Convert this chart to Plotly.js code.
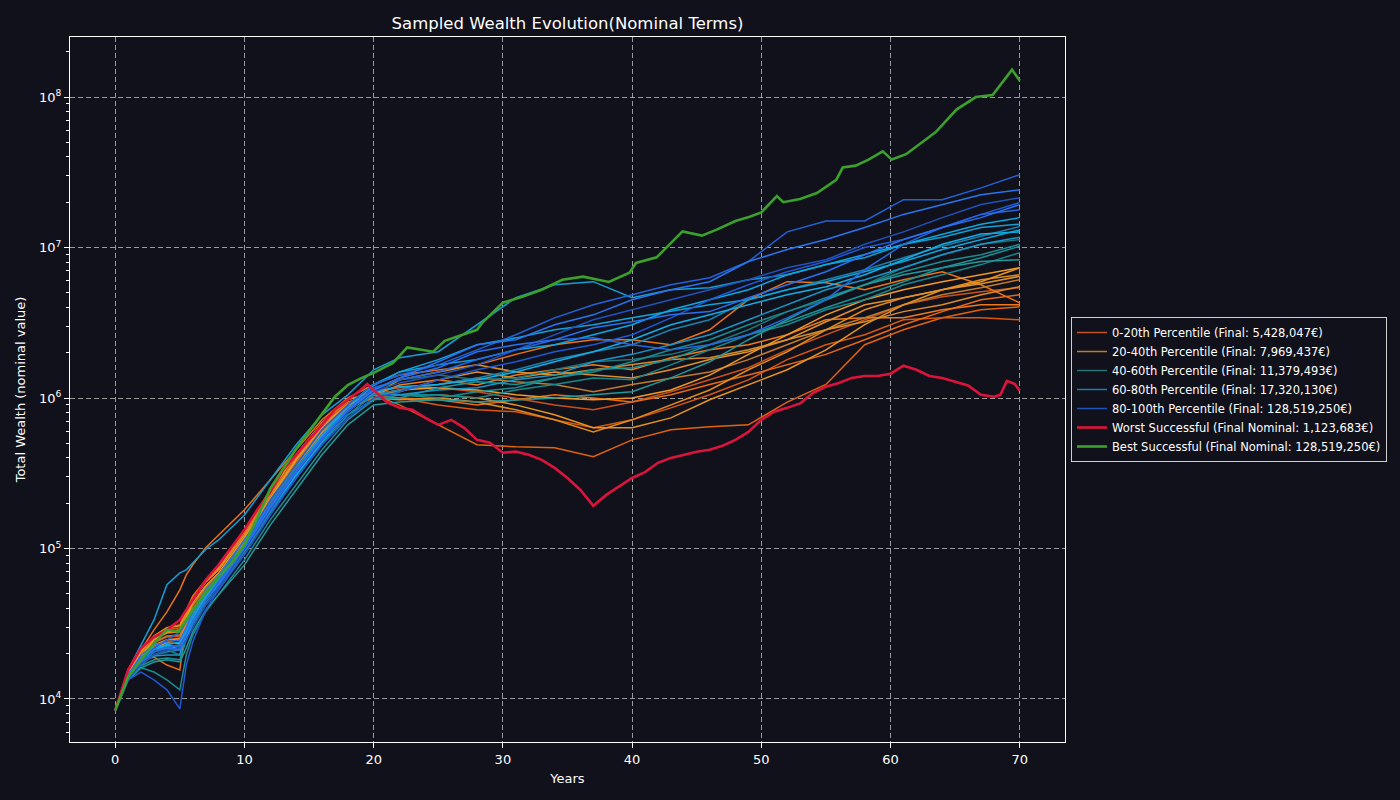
<!DOCTYPE html>
<html><head><meta charset="utf-8">
<script src="https://cdn.plot.ly/plotly-3.0.1.min.js"></script>
<style>html,body{margin:0;padding:0;background:#11111b;}#chart{width:1400px;height:800px;}</style>
</head><body><div id="chart"></div>
<script>
// Common year grid for the sampled percentile paths
const years = [0,1,2,3,4,5,5.5,6,7,8,10,12,14,16,18,20,22,25,28,31,34,37,40,43,46,49,52,55,58,61,64,67,70];

// 0-20th percentile paths
const p0_20_a = [8.4e3,1.42e4,1.90e4,2.36e4,2.58e4,2.62e4,3.25e4,4.15e4,5.31e4,6.57e4,1.14e5,2.10e5,3.59e5,6.15e5,8.9e5,1.10e6,1.17e6,1.17e6,1.10e6,1.00e6,9.0e5,8.35e5,9.4e5,1.10e6,1.32e6,1.59e6,2.09e6,2.63e6,3.31e6,4.16e6,4.71e6,5.08e6,5.41e6];
const p0_20_b = [8.4e3,1.47e4,2.05e4,2.62e4,2.97e4,3.11e4,3.91e4,4.84e4,6.18e4,7.66e4,1.33e5,2.45e5,4.20e5,6.84e5,9.4e5,1.05e6,9.0e5,6.63e5,4.89e5,4.74e5,4.67e5,4.07e5,5.27e5,6.15e5,6.43e5,6.63e5,9.4e5,1.23e6,2.26e6,2.84e6,3.41e6,3.86e6,4.04e6];
const p0_20_c = [8.4e3,1.44e4,1.99e4,2.54e4,2.88e4,2.97e4,3.74e4,4.69e4,6.0e4,7.21e4,1.23e5,2.27e5,4.00e5,6.53e5,9.2e5,1.05e6,1.00e6,9.0e5,8.35e5,8.1e5,7.16e5,6.34e5,7.16e5,8.6e5,1.05e6,1.32e6,1.80e6,2.26e6,2.63e6,3.31e6,3.41e6,3.41e6,3.31e6];
const p0_20_d = [8.4e3,1.49e4,2.12e4,2.88e4,3.79e4,5.31e4,6.67e4,7.78e4,1.01e5,1.23e5,1.81e5,2.86e5,4.53e5,7.16e5,1.00e6,1.23e6,1.42e6,1.54e6,1.66e6,1.95e6,2.26e6,2.44e6,2.44e6,2.26e6,2.84e6,4.50e6,5.93e6,5.84e6,5.24e6,6.11e6,6.91e6,5.66e6,4.29e6];
const p0_20_e = [8.4e3,1.51e4,1.82e4,1.90e4,1.68e4,1.56e4,3.25e4,4.55e4,6.0e4,7.21e4,1.23e5,2.27e5,4.00e5,6.63e5,9.1e5,1.00e6,1.00e6,9.73e5,9.0e5,9.73e5,1.05e6,1.00e6,9.4e5,1.05e6,1.23e6,1.42e6,1.66e6,1.95e6,2.44e6,3.07e6,3.75e6,4.50e6,4.86e6];
const p0_20_f = [8.4e3,1.40e4,1.85e4,2.25e4,2.47e4,2.54e4,3.15e4,3.96e4,5.15e4,6.28e4,1.09e5,2.01e5,3.49e5,5.87e5,8.6e5,1.04e6,1.22e6,1.32e6,1.22e6,1.42e6,1.54e6,1.66e6,1.54e6,1.85e6,2.09e6,2.26e6,2.63e6,3.31e6,3.41e6,3.41e6,3.86e6,4.16e6,4.16e6];

// 20-40th percentile paths
const p20_40_a = [8.4e3,1.44e4,1.93e4,2.39e4,2.62e4,2.66e4,3.35e4,4.21e4,5.48e4,6.67e4,1.14e5,2.10e5,3.76e5,6.15e5,8.6e5,1.00e6,1.13e6,1.23e6,1.36e6,1.28e6,1.23e6,1.10e6,1.23e6,1.36e6,1.49e6,1.80e6,2.26e6,2.84e6,3.41e6,4.16e6,4.86e6,5.41e6,6.11e6];
const p20_40_b = [8.4e3,1.42e4,1.96e4,2.47e4,2.74e4,2.79e4,3.62e4,4.55e4,6.0e4,7.21e4,1.23e5,2.27e5,3.88e5,6.63e5,9.0e5,1.00e6,9.73e5,1.00e6,9.4e5,8.35e5,7.16e5,5.95e5,7.16e5,9.0e5,1.13e6,1.54e6,2.03e6,2.84e6,3.86e6,4.64e6,5.24e6,6.11e6,6.60e6];
const p20_40_c = [8.4e3,1.47e4,2.05e4,2.62e4,2.97e4,3.06e4,3.79e4,4.69e4,6.18e4,7.43e4,1.29e5,2.37e5,4.20e5,6.84e5,9.73e5,1.10e6,1.05e6,1.05e6,1.00e6,9.0e5,7.73e5,6.34e5,6.34e5,7.38e5,9.73e5,1.23e6,1.54e6,2.09e6,3.07e6,4.16e6,5.24e6,5.93e6,7.34e6];
const p20_40_d = [8.4e3,1.40e4,1.87e4,2.29e4,2.47e4,2.47e4,3.11e4,3.91e4,5.15e4,6.37e4,1.11e5,2.04e5,3.59e5,5.95e5,8.35e5,1.05e6,1.32e6,1.49e6,1.66e6,1.49e6,1.42e6,1.54e6,1.66e6,1.80e6,1.85e6,2.09e6,2.44e6,2.84e6,3.21e6,3.75e6,4.16e6,4.86e6,5.49e6];
const p20_40_e = [8.4e3,1.42e4,1.93e4,2.47e4,2.79e4,2.88e4,3.46e4,4.35e4,5.65e4,6.88e4,1.18e5,2.17e5,3.88e5,6.34e5,9.1e5,1.05e6,1.13e6,1.17e6,1.13e6,1.05e6,1.00e6,9.73e5,1.00e6,1.13e6,1.42e6,1.95e6,2.63e6,3.57e6,4.50e6,5.24e6,5.93e6,6.60e6,7.34e6];
const p20_40_f = [8.4e3,1.38e4,1.82e4,2.18e4,2.36e4,2.33e4,2.97e4,3.67e4,4.84e4,6.0e4,1.04e5,1.92e5,3.33e5,5.61e5,8.35e5,1.04e6,1.10e6,1.32e6,1.49e6,1.36e6,1.49e6,1.42e6,1.36e6,1.54e6,1.80e6,2.03e6,2.44e6,3.21e6,4.16e6,4.64e6,5.24e6,5.74e6,6.44e6];

// 40-60th percentile paths
const p40_60_a = [8.4e3,1.40e4,1.76e4,2.05e4,2.18e4,2.18e4,2.66e4,3.35e4,4.55e4,5.74e4,1.01e5,1.75e5,3.08e5,5.27e5,8.1e5,1.13e6,1.32e6,1.42e6,1.32e6,1.36e6,1.54e6,1.74e6,1.80e6,1.95e6,2.26e6,2.84e6,3.75e6,4.50e6,5.66e6,7.34e6,8.96e6,1.05e7,1.13e7];
const p40_60_b = [8.4e3,1.51e4,1.61e4,1.51e4,1.34e4,1.15e4,1.96e4,2.66e4,3.79e4,4.92e4,8.4e4,1.55e5,2.64e5,4.53e5,7.16e5,9.73e5,1.05e6,1.00e6,1.10e6,1.17e6,1.36e6,1.49e6,1.74e6,2.09e6,2.44e6,3.07e6,3.75e6,4.64e6,5.66e6,6.91e6,8.07e6,8.96e6,1.05e7];
const p40_60_c = [8.4e3,1.44e4,1.82e4,1.96e4,2.12e4,1.96e4,2.97e4,3.79e4,5.15e4,6.37e4,1.14e5,2.04e5,3.43e5,5.68e5,8.35e5,1.05e6,1.05e6,1.05e6,1.00e6,1.13e6,1.23e6,1.36e6,1.32e6,1.66e6,2.09e6,2.63e6,3.07e6,3.86e6,4.50e6,5.66e6,6.60e6,7.70e6,9.24e6];
const p40_60_d = [8.4e3,1.34e4,1.61e4,1.76e4,1.82e4,1.76e4,2.18e4,2.79e4,3.91e4,4.92e4,7.78e4,1.43e5,2.45e5,4.20e5,6.63e5,9.0e5,9.4e5,9.73e5,9.4e5,9.73e5,1.00e6,1.05e6,1.10e6,1.36e6,1.74e6,2.44e6,3.31e6,4.50e6,5.66e6,6.60e6,7.34e6,8.07e6,8.29e6];
const p40_60_e = [8.4e3,1.36e4,1.66e4,1.82e4,1.87e4,1.82e4,2.47e4,3.15e4,4.35e4,5.48e4,9.5e4,1.70e5,2.94e5,4.96e5,7.73e5,9.73e5,1.00e6,1.17e6,1.28e6,1.23e6,1.36e6,1.54e6,1.59e6,1.80e6,2.26e6,2.63e6,3.21e6,3.98e6,4.86e6,5.93e6,7.34e6,8.55e6,1.02e7];

// 60-80th percentile paths
const p60_80_a = [8.4e3,1.34e4,1.68e4,1.96e4,2.05e4,2.12e4,2.47e4,3.11e4,4.21e4,5.31e4,9.50e4,1.75e5,2.94e5,4.89e5,7.73e5,1.05e6,1.13e6,1.23e6,1.36e6,1.54e6,1.80e6,2.03e6,2.26e6,2.84e6,3.31e6,4.50e6,5.24e6,6.11e6,7.12e6,8.55e6,1.02e7,1.19e7,1.38e7];
const p60_80_b = [8.4e3,1.56e4,2.29e4,3.35e4,5.74e4,6.88e4,7.21e4,8.0e4,9.85e4,1.14e5,1.67e5,2.86e5,4.89e5,7.73e5,1.05e6,1.54e6,1.85e6,2.03e6,3.07e6,4.64e6,5.66e6,5.93e6,4.64e6,5.24e6,5.41e6,6.11e6,6.60e6,7.70e6,8.55e6,1.05e7,1.17e7,1.36e7,1.43e7];
const p60_80_c = [8.4e3,1.40e4,1.82e4,2.12e4,2.29e4,2.39e4,2.88e4,3.46e4,4.69e4,6.0e4,1.06e5,1.95e5,3.33e5,5.68e5,9.0e5,1.23e6,1.49e6,1.66e6,1.80e6,2.09e6,2.26e6,2.63e6,3.07e6,3.86e6,4.50e6,5.24e6,6.60e6,7.70e6,8.96e6,1.05e7,1.23e7,1.43e7,1.58e7];
const p60_80_d = [8.4e3,1.42e4,1.87e4,2.18e4,2.29e4,2.12e4,2.54e4,3.25e4,4.55e4,5.74e4,1.01e5,1.81e5,3.08e5,5.11e5,8.1e5,1.10e6,1.19e6,1.23e6,1.32e6,1.49e6,1.74e6,2.03e6,2.44e6,3.07e6,3.57e6,4.16e6,4.86e6,5.49e6,6.60e6,8.29e6,1.05e7,1.23e7,1.27e7];
const p60_80_e = [8.4e3,1.38e4,1.76e4,1.93e4,1.96e4,1.96e4,2.88e4,3.62e4,4.92e4,6.18e4,1.06e5,1.89e5,3.33e5,5.43e5,8.35e5,1.08e6,1.05e6,1.13e6,1.17e6,1.32e6,1.42e6,1.74e6,1.95e6,2.26e6,2.63e6,3.31e6,4.16e6,5.24e6,6.11e6,7.34e6,8.96e6,1.05e7,1.17e7];
const p60_80_f = [8.4e3,1.42e4,1.85e4,2.12e4,2.25e4,2.25e4,2.74e4,3.46e4,4.77e4,6.0e4,1.03e5,1.86e5,3.22e5,5.43e5,8.6e5,1.21e6,1.49e6,1.80e6,2.26e6,2.51e6,2.84e6,3.07e6,3.41e6,3.75e6,4.16e6,4.50e6,5.24e6,5.93e6,6.91e6,8.07e6,9.69e6,1.13e7,1.31e7];

// 80-100th percentile paths
const p80_100_a = [8.4e3,1.36e4,1.71e4,1.96e4,2.12e4,2.18e4,2.47e4,2.97e4,4.21e4,5.48e4,9.85e4,1.81e5,3.22e5,5.27e5,8.1e5,1.10e6,1.26e6,1.42e6,1.66e6,2.09e6,2.63e6,3.31e6,3.86e6,4.50e6,5.24e6,6.11e6,7.34e6,8.29e6,1.05e7,1.27e7,1.58e7,1.93e7,2.14e7];
const p80_100_b = [8.4e3,1.38e4,1.82e4,2.18e4,2.47e4,2.79e4,3.25e4,3.91e4,5.15e4,6.37e4,1.06e5,2.10e5,3.59e5,6.15e5,9.0e5,1.23e6,1.42e6,1.66e6,2.09e6,2.63e6,3.41e6,4.16e6,4.86e6,5.66e6,6.30e6,8.07e6,1.27e7,1.50e7,1.50e7,2.08e7,2.08e7,2.49e7,3.05e7];
const p80_100_c = [8.4e3,1.44e4,1.96e4,2.29e4,2.39e4,2.47e4,2.97e4,3.79e4,5.31e4,6.67e4,1.14e5,1.95e5,3.33e5,5.43e5,8.35e5,1.13e6,1.36e6,1.74e6,2.26e6,2.44e6,3.07e6,3.57e6,4.50e6,5.24e6,5.93e6,8.07e6,9.69e6,1.13e7,1.36e7,1.66e7,1.93e7,2.24e7,2.42e7];
const p80_100_d = [8.4e3,1.34e4,1.51e4,1.34e4,1.15e4,8.6e3,1.68e4,2.39e4,3.91e4,5.31e4,9.07e4,1.67e5,2.94e5,4.89e5,7.38e5,1.00e6,1.10e6,1.32e6,1.54e6,1.74e6,2.03e6,2.26e6,2.63e6,3.41e6,4.50e6,5.66e6,6.91e6,8.07e6,1.0e7,1.13e7,1.36e7,1.66e7,1.99e7];
const p80_100_e = [8.4e3,1.42e4,1.76e4,2.05e4,2.18e4,2.29e4,2.66e4,3.25e4,4.55e4,6.0e4,1.01e5,1.95e5,3.33e5,5.27e5,8.35e5,1.17e6,1.32e6,1.49e6,1.80e6,2.09e6,2.44e6,2.51e6,2.26e6,2.09e6,2.26e6,2.63e6,3.41e6,4.50e6,7.12e6,1.05e7,1.36e7,1.66e7,1.78e7];
const p80_100_f = [8.4e3,1.44e4,1.90e4,2.12e4,2.18e4,2.12e4,2.62e4,3.30e4,4.55e4,5.74e4,1.01e5,1.86e5,3.22e5,5.43e5,8.35e5,1.13e6,1.36e6,1.59e6,2.03e6,2.26e6,2.44e6,2.93e6,3.21e6,3.57e6,3.75e6,4.64e6,5.66e6,6.91e6,8.96e6,1.13e7,1.36e7,1.58e7,1.93e7];

// Worst successful path
const worstYears = [0,1,2,3,4,5,6,7,8,9,10,11,12,13,14,15,16,17,18,19,19.5,20,21,22,23,24,25,26,27,28,29,30,31,32,33,34,35,36,37,38,39,40,41,42,43,44,45,46,47,48,49,50,51,52,53,54,55,56,57,58,59,60,61,62,63,64,65,66,67,68,68.5,69,69.6,70];
const worstWealth = [8.4e3,1.56e4,2.18e4,2.58e4,2.88e4,3.35e4,4.55e4,6.18e4,7.78e4,1.01e5,1.33e5,1.81e5,2.37e5,3.33e5,4.20e5,5.27e5,6.63e5,8.35e5,9.73e5,1.13e6,1.24e6,1.13e6,9.4e5,8.6e5,8.35e5,7.38e5,6.63e5,7.16e5,6.34e5,5.27e5,5.04e5,4.33e5,4.40e5,4.20e5,3.88e5,3.43e5,2.94e5,2.45e5,1.92e5,2.27e5,2.57e5,2.94e5,3.22e5,3.71e5,4.00e5,4.20e5,4.40e5,4.53e5,4.82e5,5.27e5,5.95e5,7.16e5,8.1e5,8.6e5,9.2e5,1.08e6,1.19e6,1.26e6,1.36e6,1.40e6,1.40e6,1.45e6,1.64e6,1.54e6,1.40e6,1.36e6,1.28e6,1.21e6,1.05e6,1.02e6,1.05e6,1.30e6,1.24e6,1.12e6];

// Best successful path
const bestYears = [0,1,2,3,4,4.9,6,7,8,9,10,11,12,13,14,15,16,17,18,19,20,21.5,22.6,23.5,24.6,25.5,26.4,28,28.4,30,31.5,33,34.6,36.2,38.2,39.8,40.3,41.9,43.9,45.4,46.5,48,49.1,50,51.2,51.7,53,54.3,55.8,56.3,57.3,58.3,59.4,60.1,61.2,62,63.5,65.1,66.6,67.9,68.5,69.4,70];
const bestWealth = [8.4e3,1.40e4,1.82e4,2.35e4,2.88e4,2.8e4,3.9e4,5.1e4,6.5e4,8.0e4,1.06e5,1.6e5,2.5e5,3.4e5,4.6e5,6.0e5,7.9e5,1.02e6,1.22e6,1.35e6,1.47e6,1.71e6,2.17e6,2.1e6,2.03e6,2.4e6,2.55e6,2.84e6,3.16e6,4.3e6,4.7e6,5.24e6,6.1e6,6.4e6,5.9e6,6.8e6,7.9e6,8.6e6,1.28e7,1.2e7,1.31e7,1.5e7,1.6e7,1.71e7,2.2e7,2.0e7,2.1e7,2.3e7,2.82e7,3.4e7,3.5e7,3.84e7,4.36e7,3.84e7,4.17e7,4.7e7,5.85e7,8.25e7,1.0e8,1.03e8,1.2e8,1.52e8,1.285e8];

const groupNames = [
  '0-20th Percentile (Final: 5,428,047€)',
  '20-40th Percentile (Final: 7,969,437€)',
  '40-60th Percentile (Final: 11,379,493€)',
  '60-80th Percentile (Final: 17,320,130€)',
  '80-100th Percentile (Final: 128,519,250€)'
];
const worstName = 'Worst Successful (Final Nominal: 1,123,683€)';
const bestName = 'Best Successful (Final Nominal: 128,519,250€)';

const groupPaths = [
  [p0_20_a, p0_20_b, p0_20_c, p0_20_d, p0_20_e, p0_20_f],
  [p20_40_a, p20_40_b, p20_40_c, p20_40_d, p20_40_e, p20_40_f],
  [p40_60_a, p40_60_b, p40_60_c, p40_60_d, p40_60_e],
  [p60_80_a, p60_80_b, p60_80_c, p60_80_d, p60_80_e, p60_80_f],
  [p80_100_a, p80_100_b, p80_100_c, p80_100_d, p80_100_e, p80_100_f]
];
const groupColors = [
  ['#c9521c', '#e2620f', '#d9580e', '#ec7214', '#e86a12', '#f07a1a'],
  ['#c07b2b', '#e08a1c', '#e8941f', '#d98d2a', '#f09a26', '#e0902a'],
  ['#1f757a', '#1a8c90', '#18878a', '#22989a', '#1a9296'],
  ['#1b80ac', '#169ed2', '#0aa8e2', '#12aee8', '#1896c8', '#0ea4dc'],
  ['#2152ba', '#2262d8', '#2a74ee', '#1f58d2', '#2468e0', '#2a6ff0']
];

const traces = [];
groupPaths.forEach((paths, g) => {
  paths.forEach((vals, i) => {
    traces.push({
      x: years, y: vals, type: 'scatter', mode: 'lines',
      line: {color: groupColors[g][i], width: 1.5},
      name: groupNames[g], legendgroup: 'g' + g, showlegend: i === 0,
      hoverinfo: 'skip'
    });
  });
});
traces.push({x: worstYears, y: worstWealth, type: 'scatter', mode: 'lines',
  line: {color: '#dc143c', width: 2.6}, name: worstName, hoverinfo: 'skip'});
traces.push({x: bestYears, y: bestWealth, type: 'scatter', mode: 'lines',
  line: {color: '#3ca02c', width: 2.6}, name: bestName, hoverinfo: 'skip'});

const yMajor = [1e4, 1e5, 1e6, 1e7, 1e8];
const yMajorText = ['10<sup>4</sup>', '10<sup>5</sup>', '10<sup>6</sup>', '10<sup>7</sup>', '10<sup>8</sup>'];
const yMinor = [];
for (let d = 3; d <= 8; d++) for (let k = 2; k <= 9; k++) {
  const v = k * Math.pow(10, d);
  if (v > 5.2e3 && v < 2.5e8) yMinor.push(v);
}
const xTicks = [0, 10, 20, 30, 40, 50, 60, 70];

const bg = '#11111b';
const layout = {
  width: 1400, height: 800,
  paper_bgcolor: bg, plot_bgcolor: bg,
  font: {family: 'DejaVu Sans, sans-serif', color: '#ffffff', size: 13},
  margin: {l: 70, r: 335, t: 37, b: 58},
  title: {text: 'Sampled Wealth Evolution(Nominal Terms)', x: 0.5, xref: 'paper', xanchor: 'center',
          y: 1 - 23 / 800, yref: 'container', yanchor: 'middle', font: {size: 16.5, color: '#ffffff'}},
  xaxis: {range: [-3.5, 73.5], tickmode: 'array', tickvals: xTicks, ticks: 'outside', ticklen: 5,
          tickcolor: '#ffffff', showline: true, mirror: true, linecolor: '#ffffff', linewidth: 1,
          showgrid: true, gridcolor: '#bdbdbd', griddash: '5px,3px', gridwidth: 0.8, zeroline: false,
          title: {text: 'Years', font: {size: 13}, standoff: 8}},
  yaxis: {type: 'log', range: [3.714, 8.399], tickmode: 'array', tickvals: yMajor, ticktext: yMajorText,
          ticks: 'outside', ticklen: 5, tickcolor: '#ffffff', showline: true, mirror: true,
          linecolor: '#ffffff', linewidth: 1, showgrid: true, gridcolor: '#bdbdbd', griddash: '5px,3px',
          gridwidth: 0.8, zeroline: false,
          minor: {tickmode: 'array', tickvals: yMinor, ticks: 'outside', ticklen: 3, tickcolor: '#ffffff', showgrid: false},
          title: {text: 'Total Wealth (nominal value)', font: {size: 13}, standoff: 10}},
  legend: {x: 1.006, xanchor: 'left', y: 0.5, yanchor: 'middle', bgcolor: bg, tracegroupgap: 0,
           bordercolor: '#cfcfcf', borderwidth: 1, font: {size: 11.5, color: '#ffffff'}},
  showlegend: true
};

Plotly.newPlot('chart', traces, layout, {displayModeBar: false, staticPlot: true});
</script></body></html>
